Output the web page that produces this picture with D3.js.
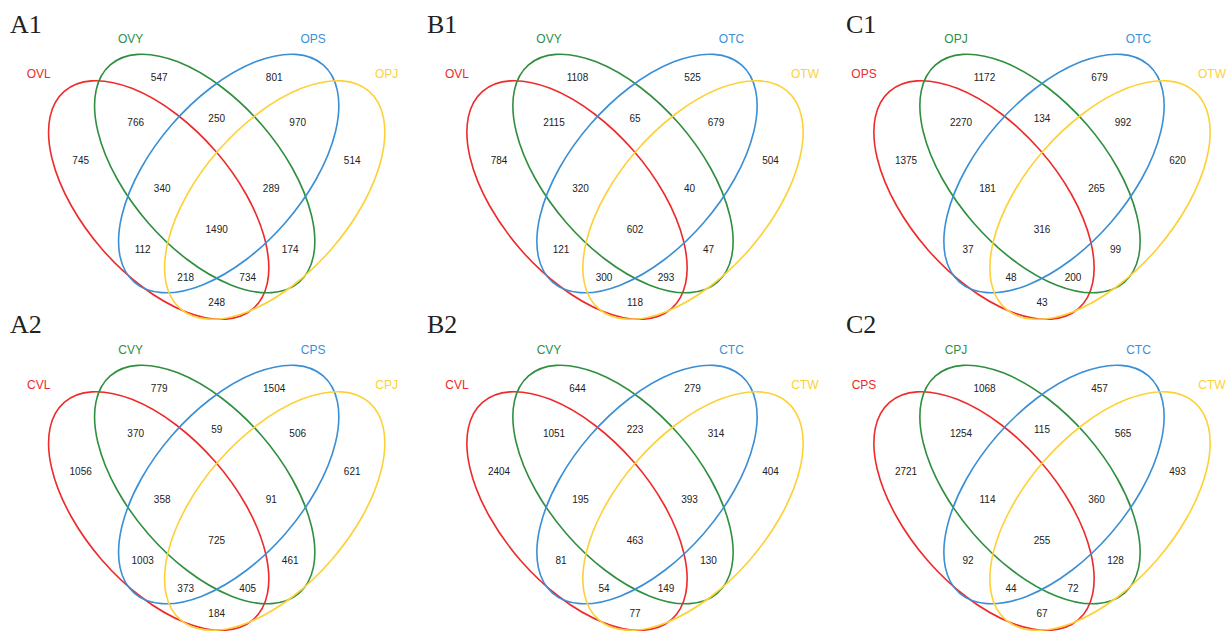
<!DOCTYPE html>
<html>
<head>
<meta charset="utf-8">
<script src="https://cdn.jsdelivr.net/npm/d3@7"></script>
<style>
  html, body { margin: 0; padding: 0; background: #fff; }
  svg { display: block; }
</style>
</head>
<body>
<svg id="chart" width="1229" height="631"></svg>
<script>
// ---------------- DATA ----------------
// Region order: R = set1 (red), G = set2 (green), B = set3 (blue), Y = set4 (yellow)
const regionKeys = ["R","G","B","Y","RG","GB","BY","RGB","GBY","RGBY","RB","GY","RBY","RGY","RY"];

const panelIds = ["A1","B1","C1","A2","B2","C2"];

const setsA1 = ["OVL","OVY","OPS","OPJ"];
const setsB1 = ["OVL","OVY","OTC","OTW"];
const setsC1 = ["OPS","OPJ","OTC","OTW"];
const setsA2 = ["CVL","CVY","CPS","CPJ"];
const setsB2 = ["CVL","CVY","CTC","CTW"];
const setsC2 = ["CPS","CPJ","CTC","CTW"];

const countsA1 = [745, 547, 801, 514, 766, 250, 970, 340, 289, 1490, 112, 174, 218, 734, 248];
const countsB1 = [784, 1108, 525, 504, 2115, 65, 679, 320, 40, 602, 121, 47, 300, 293, 118];
const countsC1 = [1375, 1172, 679, 620, 2270, 134, 992, 181, 265, 316, 37, 99, 48, 200, 43];
const countsA2 = [1056, 779, 1504, 621, 370, 59, 506, 358, 91, 725, 1003, 461, 373, 405, 184];
const countsB2 = [2404, 644, 279, 404, 1051, 223, 314, 195, 393, 463, 81, 130, 54, 149, 77];
const countsC2 = [2721, 1068, 457, 493, 1254, 115, 565, 114, 360, 255, 92, 128, 44, 72, 67];

const panelSets = [setsA1, setsB1, setsC1, setsA2, setsB2, setsC2];
const panelCounts = [countsA1, countsB1, countsC1, countsA2, countsB2, countsC2];

// ---------------- LAYOUT ----------------
const setColors = ["#ee2a2a", "#2f8f3f", "#3a8fd5", "#fdd136"];

// panel centres (diagram centre = 4-way intersection label)
const colCenters = [216.7, 635, 1042];
const rowCenters = [229, 540];
const letterX = [10, 427, 846];
const letterBaseline = [33, 333];

// geometry in local units (px offsets from the panel centre)
const ellipseGeom = [
  {cx: -58, cy: -29,   rot: 49},
  {cx: -12, cy: -55.5, rot: 49},
  {cx:  12, cy: -55.5, rot: -49},
  {cx:  58, cy: -29,   rot: -49}
];
const ellRx = 144, ellRy = 75;

const regionPos = {
  R: [-136, -69], G: [-57.5, -152], B: [57.5, -152], Y: [135.5, -69],
  RG: [-81, -107], GB: [0, -111], BY: [81, -107],
  RGB: [-54.5, -41], GBY: [54.5, -41], RGBY: [0, 0],
  RB: [-74, 20], GY: [73.5, 20], RBY: [-31, 48], RGY: [31, 48], RY: [0, 73]
};
const setLabelPos = [[-178, -155], [-86, -190], [96.5, -190], [170, -155]];

const svg = d3.select("#chart");
svg.append("rect").attr("width", 1229).attr("height", 631).attr("fill", "#fff");

panelIds.forEach((pid, i) => {
  const col = i % 3, row = Math.floor(i / 3);
  const x = d3.scaleLinear().domain([0, 1]).range([colCenters[col], colCenters[col] + 1]);
  const y = d3.scaleLinear().domain([0, 1]).range([rowCenters[row], rowCenters[row] + 1]);
  const g = svg.append("g");

  // panel letter
  g.append("text")
    .attr("x", letterX[col]).attr("y", letterBaseline[row])
    .attr("font-family", "'Liberation Serif', 'Times New Roman', serif")
    .attr("font-size", 26).attr("fill", "#222")
    .text(pid);

  // ellipses
  g.selectAll("ellipse.set")
    .data(ellipseGeom)
    .join("ellipse")
    .attr("class", "set")
    .attr("rx", ellRx).attr("ry", ellRy)
    .attr("transform", d => `translate(${x(d.cx)},${y(d.cy)}) rotate(${d.rot})`)
    .attr("fill", "none")
    .attr("stroke", (d, k) => setColors[k])
    .attr("stroke-width", 1.6);

  // set names
  g.selectAll("text.setname")
    .data(panelSets[i])
    .join("text")
    .attr("class", "setname")
    .attr("x", (d, k) => x(setLabelPos[k][0]))
    .attr("y", (d, k) => y(setLabelPos[k][1]))
    .attr("dy", "0.36em")
    .attr("text-anchor", "middle")
    .attr("font-family", "'Liberation Sans', Arial, sans-serif")
    .attr("font-size", 12)
    .attr("fill", (d, k) => setColors[k])
    .text(d => d);

  // counts
  g.selectAll("text.count")
    .data(panelCounts[i].map((v, k) => ({key: regionKeys[k], v})))
    .join("text")
    .attr("class", "count")
    .attr("x", d => x(regionPos[d.key][0]))
    .attr("y", d => y(regionPos[d.key][1]))
    .attr("dy", "0.36em")
    .attr("text-anchor", "middle")
    .attr("font-family", "'Liberation Sans', Arial, sans-serif")
    .attr("font-size", 10)
    .attr("fill", "#222")
    .text(d => d.v);
});
</script>
</body>
</html>
